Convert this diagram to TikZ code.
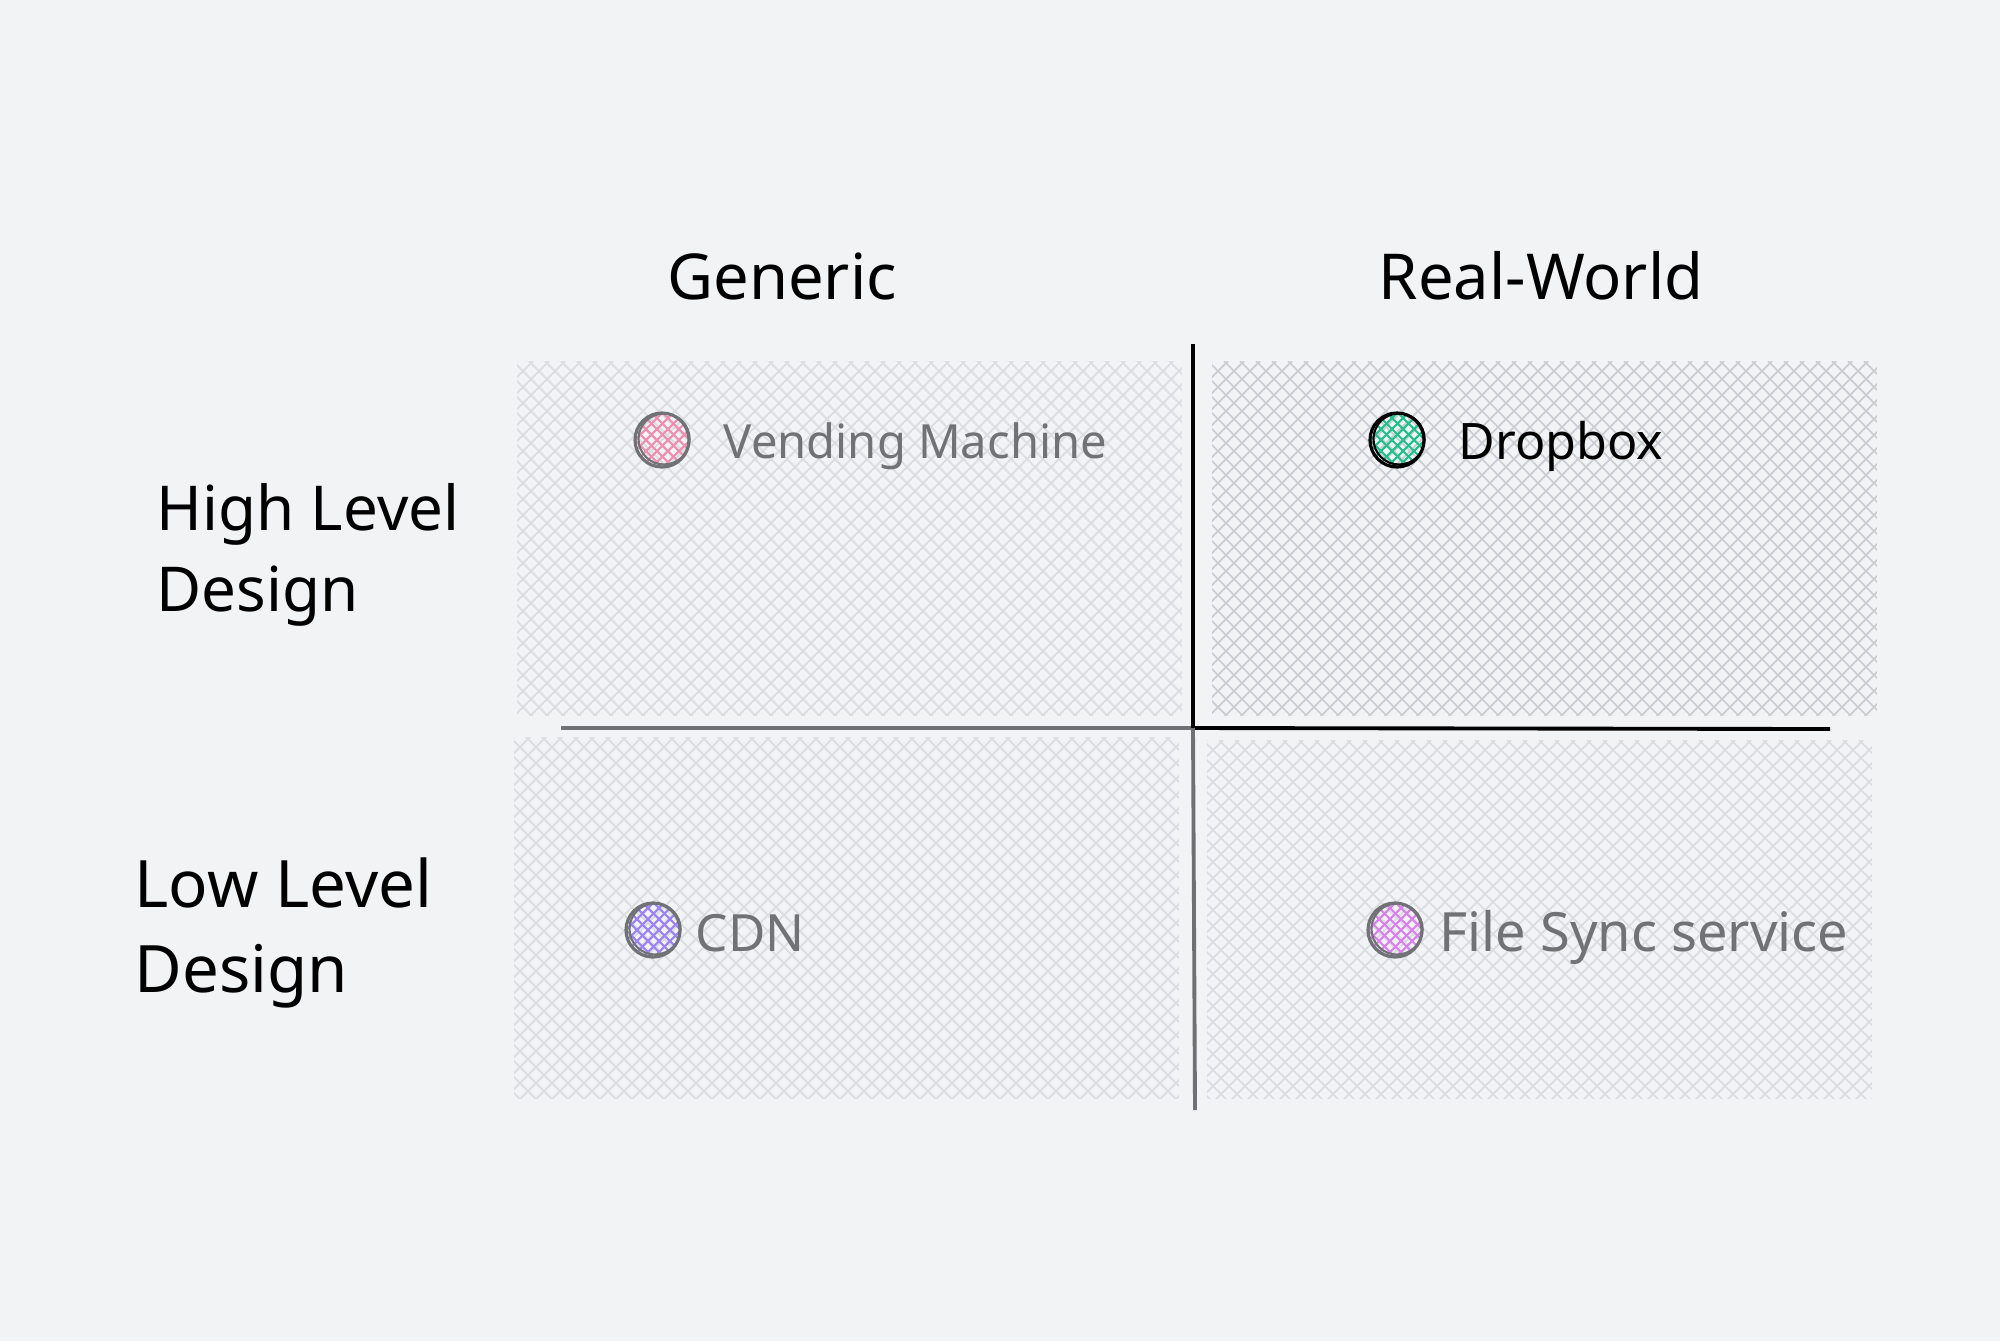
\documentclass[tikz,border=0pt]{standalone}
\usepackage{fontspec}
\setmainfont{Noto Sans}
\definecolor{bg}{HTML}{F2F3F5}
\definecolor{hatchc}{HTML}{DADDE1}
\definecolor{hatchd}{HTML}{CACED3}
\definecolor{txtgray}{HTML}{707275}
\definecolor{pinkc}{HTML}{EE8FB0}
\definecolor{greenc}{HTML}{20C08A}
\definecolor{violetc}{HTML}{9C82F5}
\definecolor{grapec}{HTML}{DA80EE}
\definecolor{axisgray}{HTML}{6E7073}
\tikzset{
  quad/.style={minimum width=6.63cm, minimum height=3.53cm, inner sep=0pt, draw=none},
  head/.style={font=\fontsize{18}{22}\selectfont, text=black, inner sep=0pt},
  side/.style={align=left, text=black, inner sep=0pt},
  item/.style={inner sep=0pt, anchor=west},
  hatch/.style={line width=0.5pt},
  dotc/.style={minimum size=0.52cm, circle, inner sep=0pt, draw=none},
  axisb/.style={line width=1.1pt, black},
  axisg/.style={line width=1.1pt, axisgray},
}
\begin{document}
\begin{tikzpicture}[x=0.01cm,y=-0.01cm]
\fill[bg] (0,0) rectangle (2000,1341);
\useasboundingbox (0,0) rectangle (2000,1341);

% quadrants
\node[quad, anchor=north west] (tl) at (517,361) {};
\node[quad, anchor=north west] (tr) at (1212,361) {};
\node[quad, anchor=north west, minimum height=3.60cm] (bl) at (514,737) {};
\node[quad, anchor=north west, minimum height=3.57cm] (br) at (1207,740) {};

\foreach \q/\c in {tl/hatchc, tr/hatchd, bl/hatchc, br/hatchc}{
  \begin{scope}
    \clip (\q.north west) rectangle (\q.south east);
    \foreach \k in {-420,-404,...,680}{
      \draw[hatch, \c] ([xshift=\k*0.01cm]\q.north west) -- ++(430,430);
    }
    \foreach \k in {0,16,...,1100}{
      \draw[hatch, \c] ([xshift=\k*0.01cm]\q.north west) -- ++(-430,430);
    }
  \end{scope}
}

% axes
\coordinate (vtop) at (1193,344);
\coordinate (vbot) at (1195,1110);
\coordinate (hl) at (561,728);
\coordinate (hr) at (1830,729);
\coordinate (ctr) at (1193,728);
\draw[axisg] (hl) -- (ctr);
\draw[axisb] (ctr) -- (hr);
\draw[axisb] (vtop) -- (ctr);
\draw[axisg] (ctr) -- (vbot);

% headers
\node[head] (generic) at (782,276) {Generic};
\node[head] (real) at (1541,276) {Real-World};
\node[side, anchor=west, font=\fontsize{17.6}{23}\selectfont] (hld) at (156,555) {High Level\\Design};
\node[side, anchor=west, font=\fontsize{18.6}{24}\selectfont] (lld) at (134,933) {Low Level\\Design};

% items
\foreach \n/\x/\y/\fc/\dc in {vm/662/440/pinkc/txtgray, db/1397/440/greenc/black, cdn/653/930/violetc/txtgray, fs/1395/930/grapec/txtgray}{
  \node[dotc] (\n) at (\x,\y) {};
  \begin{scope}
    \clip (\n.center) circle (0.26cm);
    \foreach \k in {-60,-49,...,60}{
      \draw[line width=0.6pt, \fc] ([xshift=\k*0.01cm]\n.center) ++(-40,-40) -- ++(80,80);
      \draw[line width=0.6pt, \fc] ([xshift=\k*0.01cm]\n.center) ++(40,-40) -- ++(-80,80);
    }
  \end{scope}
  \draw[\dc, line width=0.9pt] (\n.center) circle (0.27cm);
  \draw[\dc, line width=0.6pt] ([xshift=0.02cm,yshift=0.01cm]\n.center) circle (0.255cm);
}
\node[item, text=txtgray, font=\fontsize{13.4}{16}\selectfont] (vmt) at (723,446) {Vending Machine};
\node[item, text=black, font=\fontsize{14.3}{17}\selectfont] (dbt) at (1458,446) {Dropbox};
\node[item, text=txtgray, font=\fontsize{14.6}{17}\selectfont] (cdnt) at (695,933) {CDN};
\node[item, text=txtgray, font=\fontsize{15.4}{18}\selectfont] (fst) at (1439,937) {File Sync service};
\end{tikzpicture}
\end{document}
